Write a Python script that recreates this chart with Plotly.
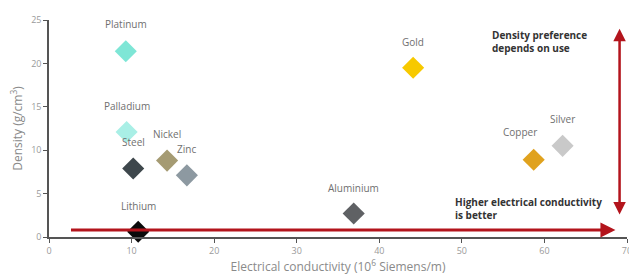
import plotly.graph_objects as go

metals = ["Platinum", "Palladium", "Steel", "Nickel", "Zinc", "Lithium",
          "Aluminium", "Gold", "Copper", "Silver"]
conductivity = [9.3, 9.4, 10.2, 14.3, 16.7, 10.8, 36.9, 44.1, 58.7, 62.2]
density = [21.4, 12.1, 7.9, 8.8, 7.1, 0.6, 2.7, 19.5, 8.9, 10.5]
colors = ["#7ee6d6", "#a9efe6", "#3e474c", "#a59b73", "#8d99a1", "#0a0a0a",
          "#5f6164", "#f7c900", "#e0a21e", "#c9c9c9"]
# label offsets in pixels (dx, dy) relative to the marker
label_dx = [0, 0, 0, 0, 0, 0, 0, 0, -14, 0]
label_dy = [-27, -26, -26, -27, -26, -26, -26, -26, -28, -27]

x_ticks = [0, 10, 20, 30, 40, 50, 60, 70]
y_ticks = [0, 5, 10, 15, 20, 25]

fig = go.Figure()
fig.add_trace(go.Scatter(
    x=conductivity, y=density, mode="markers",
    marker=dict(symbol="diamond", size=17, color=colors, line=dict(width=0)),
    hoverinfo="text", text=metals, showlegend=False, cliponaxis=False,
))

annotations = []
for name, xv, yv, dx, dy in zip(metals, conductivity, density, label_dx, label_dy):
    annotations.append(dict(x=xv, y=yv, text=name, showarrow=False,
                            xshift=dx, yshift=-dy, font=dict(size=10, color="#6f6f6f")))

red = "#b3141c"
# horizontal arrow
annotations.append(dict(x=68.6, y=0.8, ax=2.3, ay=0.8, xref="x", yref="y",
                        axref="x", ayref="y", text=" ", showarrow=True,
                        arrowhead=2, arrowsize=1, arrowwidth=3, arrowcolor=red))
# vertical double arrow
annotations.append(dict(x=69.1, y=24.0, ax=69.1, ay=1.6, xref="x", yref="y",
                        axref="x", ayref="y", text=" ", showarrow=True,
                        arrowhead=2, startarrowhead=2, arrowside="end+start",
                        arrowsize=1, startarrowsize=1, arrowwidth=2.5, arrowcolor=red))
annotations.append(dict(x=53.4, y=24.3, xref="x", yref="y", xanchor="left", yanchor="top",
                        text="<b>Density preference<br>depends on use</b>", showarrow=False,
                        align="left", font=dict(size=10, color="#333333")))
annotations.append(dict(x=48.9, y=5.1, xref="x", yref="y", xanchor="left", yanchor="top",
                        text="<b>Higher electrical conductivity<br>is better</b>", showarrow=False,
                        align="left", font=dict(size=10, color="#333333")))

fig.update_layout(
    width=629, height=279,
    margin=dict(l=49, r=2, t=20, b=42, autoexpand=False),
    paper_bgcolor="white", plot_bgcolor="white",
    font=dict(family="Open Sans, Arial, sans-serif", size=10, color="#8a8a8a"),
    annotations=annotations,
    xaxis=dict(range=[0, 70], tickvals=x_ticks, showgrid=False, zeroline=False,
               showline=True, linecolor="#555555", linewidth=1.5,
               ticks="outside", ticklen=4, tickcolor="#555555",
               ticklabeloverflow="allow", automargin=False,
               tickfont=dict(size=9, color="#9a9a9a"),
               title=dict(text="Electrical conductivity (10<sup>6</sup> Siemens/m)",
                          font=dict(size=12, color="#8a8a8a"), standoff=5)),
    yaxis=dict(range=[0, 25], tickvals=y_ticks, showgrid=False, zeroline=False,
               showline=True, linecolor="#555555", linewidth=1.5,
               ticks="outside", ticklen=4, tickcolor="#555555",
               automargin=False,
               tickfont=dict(size=9, color="#9a9a9a"),
               title=dict(text="Density (g/cm<sup>3</sup>)",
                          font=dict(size=12, color="#8a8a8a"), standoff=6)),
)

fig.write_html("out.html", config={"displayModeBar": False},
               post_script="document.body.style.margin='0';document.body.style.overflow='hidden';")
